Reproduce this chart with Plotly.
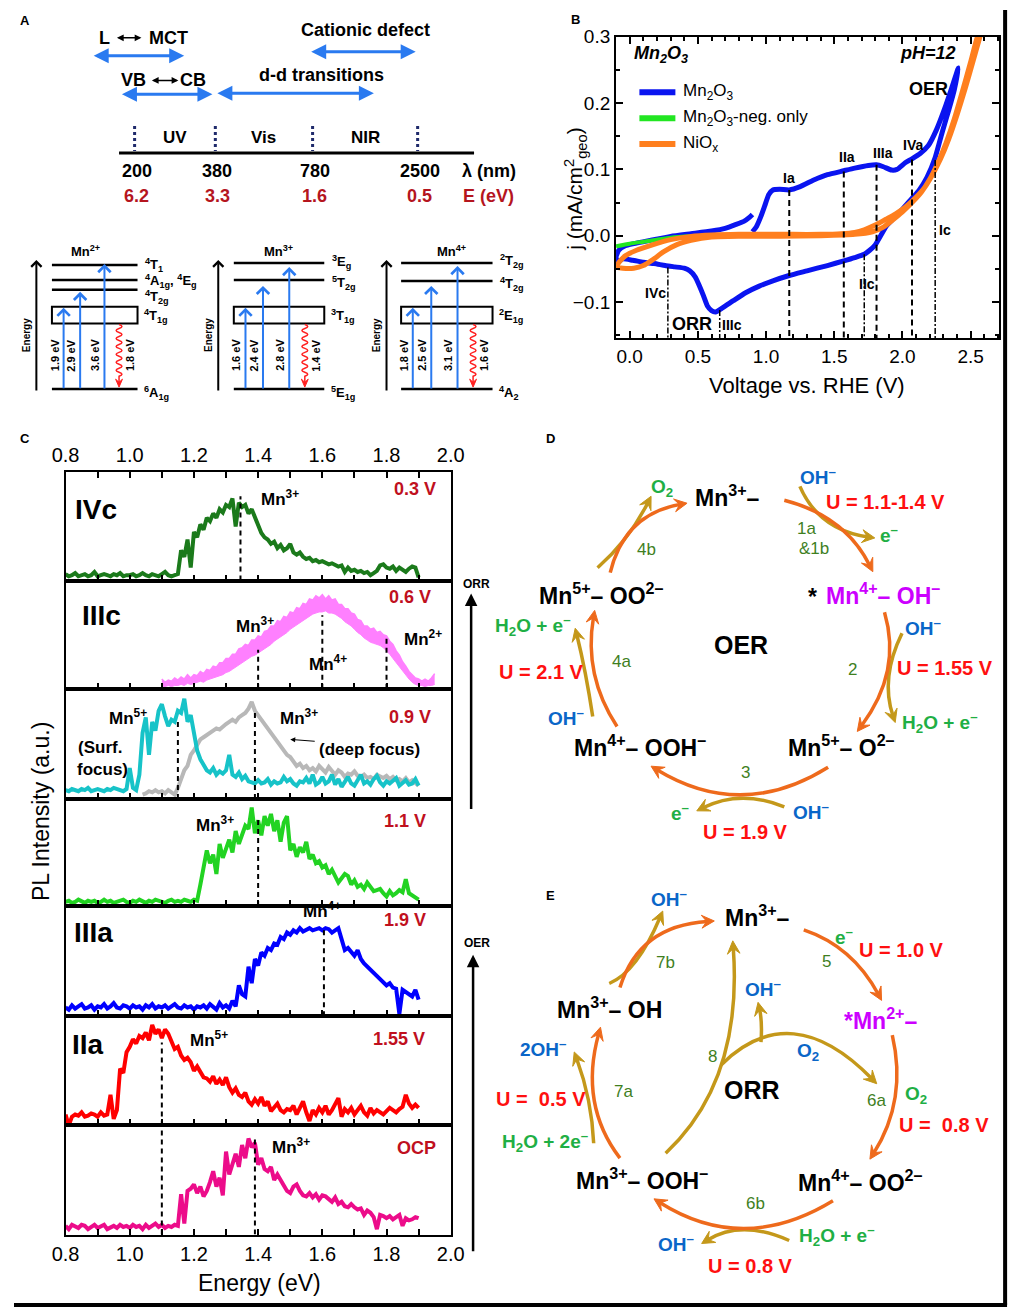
import math
import plotly.graph_objects as go

W, H = 1023, 1309
FONT = "Liberation Sans, Arial, sans-serif"

# ---------------------------------------------------------------------------------------------
# Data
# ---------------------------------------------------------------------------------------------

# Panel A - spectral regions and crystal-field transitions
wavelengths = [200, 380, 780, 2500]
photon_ev = [6.2, 3.3, 1.6, 0.5]
regions = ["UV", "Vis", "NIR"]
ions = ["Mn<sup>2+</sup>", "Mn<sup>3+</sup>", "Mn<sup>4+</sup>"]
upper_terms = [["<sup>4</sup>T<sub>1</sub>", "<sup>4</sup>A<sub>1g</sub>, <sup>4</sup>E<sub>g</sub>", "<sup>4</sup>T<sub>2g</sub>"],
               ["<sup>3</sup>E<sub>g</sub>", "<sup>5</sup>T<sub>2g</sub>"],
               ["<sup>2</sup>T<sub>2g</sub>", "<sup>4</sup>T<sub>2g</sub>"]]
box_terms = ["<sup>4</sup>T<sub>1g</sub>", "<sup>3</sup>T<sub>1g</sub>", "<sup>2</sup>E<sub>1g</sub>"]
ground_terms = ["<sup>6</sup>A<sub>1g</sub>", "<sup>5</sup>E<sub>1g</sub>", "<sup>4</sup>A<sub>2</sub>"]
absorption_ev = [[1.9, 2.9, 3.6], [1.6, 2.4, 2.8], [1.8, 2.5, 3.1]]
emission_ev = [1.8, 1.4, 1.6]

# Panel B - cyclic voltammograms (V vs RHE, mA/cm2)
mn2o3_v = [0.90, 0.93, 0.96, 0.99, 1.02, 1.05, 1.10, 1.17, 1.25, 1.35, 1.45, 1.57, 1.65, 1.75, 1.81, 1.86, 1.92, 1.96, 2.02, 2.07,
           2.13, 2.19, 2.25, 2.31, 2.36, 2.41,
           2.38, 2.34, 2.29, 2.24, 2.18, 2.12, 2.06, 2.00, 1.94, 1.88, 1.84, 1.80, 1.76, 1.72, 1.65, 1.57, 1.45, 1.30, 1.17, 1.05,
           0.95, 0.85, 0.76, 0.68, 0.63, 0.60, 0.57, 0.54, 0.51, 0.48, 0.44, 0.40, 0.33, 0.26, 0.18, 0.10, 0.02, -0.05, -0.09, -0.10,
           -0.08, -0.04, 0.03, 0.15, 0.30, 0.45, 0.60, 0.70, 0.78, 0.84, 0.88, 0.90]
mn2o3_j = [0.006, 0.014, 0.028, 0.045, 0.062, 0.069, 0.070, 0.069, 0.074, 0.084, 0.092, 0.098, 0.102, 0.106, 0.107, 0.104, 0.099, 0.100, 0.110, 0.116,
           0.124, 0.136, 0.160, 0.192, 0.222, 0.253,
           0.220, 0.190, 0.155, 0.118, 0.088, 0.068, 0.054, 0.040, 0.027, 0.014, 0.000, -0.014, -0.022, -0.028, -0.033, -0.038, -0.045, -0.053, -0.060, -0.068,
           -0.076, -0.086, -0.098, -0.109, -0.115, -0.113, -0.106, -0.090, -0.075, -0.062, -0.053, -0.049, -0.047, -0.045, -0.042, -0.040, -0.037, -0.035, -0.040, -0.032,
           -0.022, -0.016, -0.012, -0.007, -0.001, 0.003, 0.007, 0.011, 0.017, 0.022, 0.028, 0.032]
neg_v = [-0.10, 0.00, 0.10, 0.20, 0.30, 0.45, 0.60, 0.75, 0.90]
neg_j = [-0.016, -0.012, -0.009, -0.006, -0.003, -0.001, 0.000, 0.001, 0.002]
niox_v = [-0.10, -0.07, -0.03, 0.05, 0.15, 0.30, 0.45, 0.60, 0.80, 1.00, 1.20, 1.40, 1.55, 1.65, 1.72, 1.80, 1.88, 1.95, 2.02, 2.09,
          2.16, 2.22, 2.28, 2.34, 2.40, 2.46, 2.52, 2.58,
          2.55, 2.50, 2.44, 2.38, 2.32, 2.26, 2.20, 2.14, 2.07, 2.00, 1.93, 1.86, 1.78, 1.65, 1.40, 1.10, 0.80, 0.60, 0.45, 0.35,
          0.25, 0.17, 0.10, 0.03, -0.05, -0.10]
niox_j = [-0.047, -0.038, -0.030, -0.022, -0.015, -0.006, -0.001, 0.001, 0.002, 0.002, 0.002, 0.002, 0.003, 0.005, 0.009, 0.016, 0.025, 0.033, 0.043, 0.056,
          0.072, 0.092, 0.116, 0.146, 0.182, 0.222, 0.265, 0.310,
          0.300, 0.262, 0.218, 0.176, 0.140, 0.110, 0.085, 0.066, 0.050, 0.036, 0.024, 0.013, 0.006, 0.002, 0.000, -0.001, -0.001, -0.002, -0.007, -0.013,
          -0.024, -0.036, -0.045, -0.049, -0.049, -0.047]
cv_names = ["Mn<sub>2</sub>O<sub>3</sub>", "Mn<sub>2</sub>O<sub>3</sub>-neg. only", "NiO<sub>x</sub>"]
anodic_peaks = ["Ia", "IIa", "IIIa", "IVa"]
anodic_v = [1.17, 1.57, 1.81, 2.07]
anodic_j = [0.069, 0.097, 0.107, 0.115]
cathodic_peaks = ["IVc", "IIIc", "IIc", "Ic"]
cathodic_v = [0.28, 0.66, 1.72, 2.24]
cathodic_j = [-0.048, -0.112, -0.028, 0.114]

# Panel C - PL spectra, 0.01 eV steps (intensity in % of panel height)
pl_start = 0.80
pl_ivc = [6, 4, 5, 7, 4, 5, 6, 4, 5, 8,
          4, 5, 6, 5, 4, 6, 5, 7, 4, 5,
          5, 6, 4, 5, 7, 5, 4, 6, 5, 4,
          6, 8, 5, 4, 5, 6, 28, 22, 38, 12,
          45, 40, 52, 47, 58, 55, 62, 58, 66, 63,
          70, 68, 76, 50, 72, 68, 70, 62, 66, 58,
          50, 44, 40, 38, 34, 36, 30, 33, 28, 30,
          34, 26, 24, 26, 22, 20, 21, 18, 19, 17,
          18, 16, 15, 16, 14, 13, 14, 8, 12, 9,
          10, 8, 9, 7, 8, 5, 7, 9, 14, 15,
          12, 11, 13, 9, 12, 10, 8, 11, 13, 12,
          3]
pl_09_cyan = [8, 7, 9, 8, 7, 9, 8, 10, 7, 8,
              9, 8, 7, 9, 8, 10, 9, 8, 7, 9,
              28, 10, 8, 22, 60, 74, 40, 70, 62, 80,
              86, 75, 66, 72, 70, 80, 78, 91, 70, 76,
              62, 44, 36, 30, 26, 24, 28, 22, 25, 23,
              26, 40, 22, 20, 24, 18, 21, 16, 15, 14,
              17, 14, 15, 18, 13, 16, 14, 15, 20, 16,
              18, 14, 12, 16, 15, 19, 14, 22, 13, 15,
              20, 14, 16, 22, 13, 18, 11, 16, 20, 14,
              12, 17, 22, 14, 16, 13, 18, 21, 15, 12,
              16, 14, 17, 19, 12, 15, 17, 13, 14, 18,
              12]
gray_start = 1.04
pl_09_gray = [4, 5, 7, 6, 8, 6, 7, 5, 8, 6,
              4, 10, 18, 26, 30, 40, 44, 50, 54, 56,
              58, 60, 62, 64, 63, 66, 68, 70, 72, 70,
              74, 76, 78, 82, 88, 80, 76, 72, 68, 64,
              60, 56, 52, 48, 44, 40, 38, 34, 30, 32,
              28, 30, 26, 28, 25, 30, 27, 24, 29, 26,
              22, 26, 24, 20, 23, 22, 25, 21, 20, 22,
              19, 20, 18, 22, 20, 19, 21, 18, 20, 17,
              18, 16, 19, 15, 17, 14, 12]
pl_11 = [4, 5, 3, 4, 6, 4, 3, 5, 4, 5,
         3, 4, 6, 4, 5, 3, 4, 5, 6, 4,
         3, 5, 4, 6, 4, 3, 5, 4, 6, 5,
         4, 3, 5, 6, 4, 5, 4, 6, 5, 4,
         6, 5, 20, 35, 52, 40, 48, 30, 58, 45,
         55, 62, 50, 70, 58, 66, 75, 72, 92, 68,
         80, 66, 84, 75, 86, 70, 80, 60, 78, 84,
         52, 58, 46, 55, 50, 60, 44, 48, 40, 42,
         36, 38, 30, 34, 28, 22, 26, 30, 28, 20,
         24, 18, 20, 16, 22, 18, 14, 15, 16, 12,
         9, 14, 10, 12, 15, 13, 25, 12, 10, 8,
         6]
pl_iiia = [8, 6, 10, 7, 9, 11, 7, 8, 10, 6,
           9, 8, 11, 7, 9, 12, 8, 7, 10, 9,
           7, 10, 8, 9, 6, 10, 8, 11, 7, 9,
           8, 10, 7, 9, 11, 8, 7, 10, 8, 9,
           6, 9, 8, 10, 7, 11, 9, 6, 12, 8,
           10, 7, 14, 9, 28, 20, 18, 45, 30, 52,
           46, 58, 55, 62, 60, 66, 65, 72, 70, 76,
           74, 78, 76, 80, 77, 79, 80, 78, 79, 80,
           78, 80, 79, 76, 78, 80, 70, 60, 62, 58,
           55, 60, 52, 48, 45, 42, 40, 36, 34, 30,
           28, 30, 26, 25, 2, 24, 22, 20, 18, 24,
           15]
pl_iia = [10, 0, 8, 10, 9, 12, 8, 9, 11, 10,
          8, 12, 9, 10, 28, 6, 14, 52, 48, 67,
          72, 79, 75, 82, 80, 85, 78, 92, 84, 88,
          80, 88, 84, 76, 70, 72, 64, 60, 62, 58,
          50, 54, 48, 44, 43, 40, 45, 38, 42, 37,
          44, 35, 30, 34, 28, 26, 30, 22, 19, 24,
          20, 26, 18, 22, 13, 16, 20, 14, 12, 15,
          14, 18, 10, 16, 22, 12, 4, 14, 10, 16,
          12, 18, 10, 14, 20, 25, 8, 15, 12, 16,
          10, 14, 18, 12, 9, 16, 11, 14, 12, 10,
          13, 16, 14, 12, 15, 17, 28, 20, 16, 19,
          16]
pl_ocp = [8, 5, 9, 7, 6, 9, 8, 5, 7, 9,
          6, 8, 9, 5, 7, 8, 6, 9, 7, 8,
          6, 9, 7, 8, 5, 9, 6, 8, 10, 7,
          9, 6, 8, 7, 9, 8, 37, 10, 40, 42,
          46, 38, 44, 35, 40, 48, 58, 44, 52, 36,
          76, 55, 66, 74, 62, 82, 70, 88, 80, 84,
          64, 70, 60, 58, 62, 50, 55, 49, 45, 40,
          38, 44, 46, 40, 36, 35, 38, 34, 37, 32,
          36, 35, 32, 30, 34, 28, 30, 26, 25, 28,
          25, 23, 24, 18, 22, 20, 16, 5, 18, 17,
          15, 17, 14, 16, 18, 8, 15, 13, 14, 16,
          15]
iiic_start = 1.10
pl_iiic_hi = [9, 6, 8, 7, 10, 8, 11, 9, 13, 10,
              13, 12, 16, 14, 18, 17, 21, 20, 24, 24,
              28, 28, 32, 32, 37, 38, 41, 40, 45, 45,
              49, 48, 53, 54, 58, 58, 63, 62, 67, 66,
              71, 70, 75, 74, 79, 78, 83, 82, 86, 84,
              87, 83, 86, 82, 83, 78, 78, 74, 74, 70,
              69, 64, 63, 58, 58, 55, 56, 52, 53, 50,
              49, 44, 41, 35, 31, 25, 21, 16, 13, 10,
              9, 7, 9, 7, 10, 14]
pl_iiic_lo = [2, 2, 3, 2, 3, 3, 4, 3, 5, 4,
              5, 6, 7, 6, 8, 9, 10, 11, 12, 13,
              15, 16, 18, 20, 22, 24, 26, 28, 30, 31,
              33, 35, 37, 39, 41, 44, 46, 48, 50, 52,
              55, 57, 59, 61, 63, 65, 67, 69, 70, 71,
              71, 72, 70, 70, 69, 67, 65, 62, 60, 58,
              55, 52, 50, 47, 45, 43, 42, 41, 40, 38,
              35, 32, 28, 24, 20, 16, 12, 9, 6, 4,
              3, 3, 2, 3, 3, 4]
potentials = ["0.3 V", "0.6 V", "0.9 V", "1.1 V", "1.9 V", "1.55 V", "OCP"]
peak_e = [[1.345], [1.40, 1.60, 1.80], [1.15, 1.39], [1.40], [1.605], [1.10], [1.10, 1.39]]
peak_top = [[78], [36, 68, 50], [71, 80], [83], [78], [76], [100, 87]]

# ---------------------------------------------------------------------------------------------
# Helpers (pixel position -> paper)
# ---------------------------------------------------------------------------------------------
def X(px):
    return px / W


def Y(py):
    return 1 - py / H


annotations = []
shapes = []


def txt(x, y, s, size=14, color="black", bold=True, angle=0, xanchor="center", yanchor="middle"):
    if bold:
        s = "<b>" + s + "</b>"
    annotations.append(dict(x=X(x), y=Y(y), xref="paper", yref="paper", text=s, showarrow=False,
                            font=dict(size=size, color=color, family=FONT), textangle=angle,
                            xanchor=xanchor, yanchor=yanchor))


def seg(x0, y0, x1, y1, color="black", width=2, dash="solid"):
    shapes.append(dict(type="line", xref="paper", yref="paper", x0=X(x0), y0=Y(y0), x1=X(x1), y1=Y(y1),
                       line=dict(color=color, width=width, dash=dash)))


def arrow(x0, y0, x1, y1, color="black", width=2, head=2, size=1.0, both=False):
    annotations.append(dict(x=X(x1), y=Y(y1), xref="paper", yref="paper", ax=x0 - x1, ay=y0 - y1,
                            text="", showarrow=True, arrowhead=head, arrowsize=size, arrowwidth=width,
                            arrowcolor=color, arrowside="end+start" if both else "end",
                            startarrowhead=head, startarrowsize=size))


def head_tri(tip, ux, uy, color, hl=13, hw=6.5):
    nx, ny = -uy, ux
    b1 = (tip[0] - ux * hl + nx * hw, tip[1] - uy * hl + ny * hw)
    b2 = (tip[0] - ux * hl - nx * hw, tip[1] - uy * hl - ny * hw)
    nt = (tip[0] - ux * hl * 0.6, tip[1] - uy * hl * 0.6)
    p = "M{},{} L{},{} L{},{} L{},{} Z".format(X(tip[0]), Y(tip[1]), X(b1[0]), Y(b1[1]),
                                              X(nt[0]), Y(nt[1]), X(b2[0]), Y(b2[1]))
    shapes.append(dict(type="path", path=p, xref="paper", yref="paper", fillcolor=color,
                       line=dict(color=color, width=1)))


def curved(p0, pm, p1, color, width=3.5):
    cx = 2 * pm[0] - 0.5 * (p0[0] + p1[0])
    cy = 2 * pm[1] - 0.5 * (p0[1] + p1[1])
    dx, dy = p1[0] - cx, p1[1] - cy
    L = math.hypot(dx, dy)
    ux, uy = dx / L, dy / L
    end = (p1[0] - ux * 7, p1[1] - uy * 7)
    p = "M{},{} Q{},{} {},{}".format(X(p0[0]), Y(p0[1]), X(cx), Y(cy), X(end[0]), Y(end[1]))
    shapes.append(dict(type="path", path=p, xref="paper", yref="paper", line=dict(color=color, width=width)))
    head_tri(p1, ux, uy, color)


def wavy(x, y0, y1, color="#FF2020"):
    p = "M{},{}".format(X(x), Y(y0))
    y, s = y0, 1
    while y + 4 <= y1 - 8:
        p += " Q{},{} {},{}".format(X(x + s * 6), Y(y + 2), X(x), Y(y + 4))
        y += 4
        s = -s
    p += " L{},{}".format(X(x), Y(y1 - 5))
    shapes.append(dict(type="path", path=p, xref="paper", yref="paper", line=dict(color=color, width=1.5)))
    head_tri((x, y1), 0, 1, color, hl=8, hw=3.5)


# ---------------------------------------------------------------------------------------------
# Panel A
# ---------------------------------------------------------------------------------------------
BLUE_A = "#2A7AF0"
DRED = "#B5151E"
txt(11, 11, "A", 13)
txt(93, 28, "L", 18)
txt(159, 28, "MCT", 18)
arrow(105, 28, 131, 28, "black", 1.5, 2, 0.9, both=True)
txt(361, 20, "Cationic defect", 18)
txt(123, 71, "VB", 18)
txt(184, 71, "CB", 18)
arrow(141, 71, 169, 71, "black", 1.5, 2, 0.9, both=True)
txt(316, 66, "d-d transitions", 18)
arrow(83, 46, 175, 46, BLUE_A, 3, 2, 1, both=True)
arrow(307, 42, 413, 42, BLUE_A, 3, 2, 1, both=True)
arrow(112, 85, 204, 85, BLUE_A, 3, 2, 1, both=True)
arrow(212, 84, 370, 84, BLUE_A, 3, 2, 1, both=True)

seg(108, 144, 473, 144, "black", 3)
tick_px = [124, 207, 307, 415]
for i, xp in enumerate(tick_px):
    seg(xp, 117, xp, 142, "#1F2A6B", 3, "dot")
    txt(xp + 2, 162, str(wavelengths[i]), 18)
    txt(xp + 2, 187, str(photon_ev[i]), 18, DRED)
for i, r in enumerate(regions):
    txt((tick_px[i] + tick_px[i + 1]) / 2, 128, r, 17)
txt(488, 162, "λ (nm)", 18)
txt(488, 187, "E (eV)", 18, DRED)

# energy-level diagrams
diag_x0 = [39, 226, 398]
diag_w = [88, 93, 94]
axis_x = [23, 210, 383]
ion_x = [73, 272, 450]
upper_y = [[257, 272, 282], [255, 272], [255, 273]]
upper_ly = [[257, 273, 289], [254, 275], [253, 276]]
abs_dx = [[12, 29, 54], [12, 30, 57], [12, 31, 58]]
abs_tip = [[300, 284, 256], [300, 278, 259], [300, 278, 258]]
em_dx = [69, 73, 74]
for d in range(3):
    x0, w = diag_x0[d], diag_w[d]
    arrow(axis_x[d], 384, axis_x[d], 252, "black", 2, 4, 1)
    txt(axis_x[d] - 10, 328, "Energy", 10, angle=-90)
    txt(ion_x[d], 243, ions[d], 13)
    for k, yl in enumerate(upper_y[d]):
        seg(x0, yl, x0 + w, yl, "black", 2.5)
        txt(x0 + w + 6, upper_ly[d][k], upper_terms[d][k], 13, xanchor="left")
    shapes.append(dict(type="rect", xref="paper", yref="paper", x0=X(x0), x1=X(x0 + w), y0=Y(316), y1=Y(299),
                       line=dict(color="black", width=2)))
    txt(x0 + w + 5, 308, box_terms[d], 13, xanchor="left")
    seg(x0, 382, x0 + w, 382, "black", 2.5)
    txt(x0 + w + 5, 386, ground_terms[d], 13, xanchor="left")
    for k in range(3):
        xa = x0 + abs_dx[d][k]
        arrow(xa, 382, xa, abs_tip[d][k], BLUE_A, 2, 4, 1.2)
        txt(xa - 9, 348, "{} eV".format(absorption_ev[d][k]), 11, angle=-90)
    xw = x0 + em_dx[d]
    wavy(xw, 317, 380)
    txt(xw + 12, 348, "{} eV".format(emission_ev[d]), 11, angle=-90)

# ---------------------------------------------------------------------------------------------
# Panel B
# ---------------------------------------------------------------------------------------------
fig = go.Figure()
cv_colors = ["#0A14F0", "#22E622", "#FF7F1E"]
cv_widths = [5, 4, 5]
for v, j, c, w in zip([mn2o3_v, neg_v, niox_v], [mn2o3_j, neg_j, niox_j], cv_colors, cv_widths):
    fig.add_trace(go.Scatter(x=v, y=j, mode="lines", xaxis="x", yaxis="y", showlegend=False,
                             line=dict(color=c, width=w, shape="spline", smoothing=0.5), hoverinfo="skip"))
for v, j in zip(anodic_v, anodic_j):
    fig.add_trace(go.Scatter(x=[v, v], y=[j, -0.155], mode="lines", xaxis="x", yaxis="y", showlegend=False,
                             line=dict(color="black", width=2, dash="6px,4px")))
for v, j in zip(cathodic_v, cathodic_j):
    fig.add_trace(go.Scatter(x=[v, v], y=[j, -0.155], mode="lines", xaxis="x", yaxis="y", showlegend=False,
                             line=dict(color="black", width=1.5, dash="6px,2px,2px,2px")))

b_lab_pos = [(1.17, 0.087), (1.59, 0.119), (1.86, 0.125), (2.08, 0.137)]
for name, (v, j) in zip(anodic_peaks, b_lab_pos):
    annotations.append(dict(x=v, y=j, xref="x", yref="y", text="<b>" + name + "</b>", showarrow=False,
                            font=dict(size=14, family=FONT, color="black")))
c_lab_pos = [(0.19, -0.087), (0.75, -0.134), (1.74, -0.073), (2.31, 0.009)]
for name, (v, j) in zip(cathodic_peaks, c_lab_pos):
    annotations.append(dict(x=v, y=j, xref="x", yref="y", text="<b>" + name + "</b>", showarrow=False,
                            font=dict(size=14, family=FONT, color="black")))
annotations.append(dict(x=0.46, y=-0.133, xref="x", yref="y", text="<b>ORR</b>", showarrow=False,
                        font=dict(size=18, family=FONT, color="black")))
annotations.append(dict(x=2.19, y=0.222, xref="x", yref="y", text="<b>OER</b>", showarrow=False,
                        font=dict(size=18, family=FONT, color="black")))
txt(665, 45, "<i>Mn<sub>2</sub>O<sub>3</sub></i>", 18)
txt(940, 43, "<i>pH=12</i>", 18)
txt(577, 10, "B", 13)
for i, name in enumerate(cv_names):
    yy = 83 + i * 26
    seg(643, yy, 680, yy, cv_colors[i], 6)
    txt(686, yy, name, 17, bold=False, xanchor="left")
txt(577, 180, "j (mA/cm<sup>2</sup><sub>geo</sub>)", 21, bold=False, angle=-90)
txt(815, 378, "Voltage vs. RHE (V)", 22, bold=False)

# ---------------------------------------------------------------------------------------------
# Panel C
# ---------------------------------------------------------------------------------------------
c_tops = [466, 575, 684, 795, 903, 1014, 1124, 1234]


def egrid(start, n):
    return [round(start + 0.01 * i, 2) for i in range(n)]


spectra = [[(pl_ivc, pl_start, "#1B7A1B")],
           [],
           [(pl_09_gray, gray_start, "#B8B8B8"), (pl_09_cyan, pl_start, "#17C3C8")],
           [(pl_11, pl_start, "#22D322")],
           [(pl_iiia, pl_start, "#0000FF")],
           [(pl_iia, pl_start, "#FF0000")],
           [(pl_ocp, pl_start, "#EC0C8A")]]

layout_axes = {}
for k in range(7):
    ax = "x{}".format(k + 2)
    ay = "y{}".format(k + 2)
    if k == 1:
        e = egrid(iiic_start, len(pl_iiic_lo))
        fig.add_trace(go.Scatter(x=e, y=pl_iiic_lo, mode="lines", xaxis=ax, yaxis=ay, showlegend=False,
                                 line=dict(color="#FF80FF", width=1)))
        fig.add_trace(go.Scatter(x=e, y=pl_iiic_hi, mode="lines", xaxis=ax, yaxis=ay, showlegend=False,
                                 fill="tonexty", fillcolor="#FF80FF", line=dict(color="#FF80FF", width=1.5)))
    for vals, st, col in spectra[k]:
        fig.add_trace(go.Scatter(x=egrid(st, len(vals)), y=vals, mode="lines", xaxis=ax, yaxis=ay,
                                 showlegend=False, line=dict(color=col, width=4)))
    for e0, top in zip(peak_e[k], peak_top[k]):
        fig.add_trace(go.Scatter(x=[e0, e0], y=[0, top], mode="lines", xaxis=ax, yaxis=ay, showlegend=False,
                                 line=dict(color="black", width=2, dash="5px,4px")))
    xa = dict(domain=[X(53), X(449)], range=[0.8, 2.0], anchor=ay, showline=True, linecolor="black",
              linewidth=2, ticks="inside", ticklen=6, tickwidth=2, tickcolor="black", dtick=0.2, tick0=0.8,
              tickformat=".1f", minor=dict(dtick=0.1, ticks="inside", ticklen=6, tickwidth=2, tickcolor="black"),
              showgrid=False, zeroline=False, tickfont=dict(size=20, family=FONT, color="black"),
              mirror=True, showticklabels=False)
    if k == 0:
        xa.update(side="top", mirror="allticks", showticklabels=True)
    if k == 6:
        xa.update(showticklabels=True)
    ya = dict(domain=[Y(c_tops[k + 1]), Y(c_tops[k])], range=[0, 100], anchor=ax, showline=True,
              linecolor="black", linewidth=2, mirror=True, ticks="", showticklabels=False,
              showgrid=False, zeroline=False)
    layout_axes["xaxis{}".format(k + 2)] = xa
    layout_axes["yaxis{}".format(k + 2)] = ya

DRED_C = "#C0101E"
txt(11, 432, "C", 13)
txt(84, 503, "IVc", 28)
txt(90, 610, "IIIc", 28)
txt(82, 930, "IIIa", 28)
txt(76, 1042, "IIa", 28)
pot_pos = [(412, 483), (407, 592), (407, 712), (402, 817), (402, 917), (396, 1037), (414, 1147)]
for p, (xp, yp) in zip(potentials, pot_pos):
    txt(xp, yp, p, 18, DRED_C)
for s, xp, yp in [("Mn<sup>3+</sup>", 273, 492), ("Mn<sup>3+</sup>", 248, 620), ("Mn<sup>4+</sup>", 323, 658),
                  ("Mn<sup>2+</sup>", 420, 633), ("Mn<sup>5+</sup>", 117, 712), ("Mn<sup>3+</sup>", 293, 712),
                  ("Mn<sup>3+</sup>", 207, 820), ("Mn<sup>4+</sup>", 317, 907), ("Mn<sup>5+</sup>", 200, 1037),
                  ("Mn<sup>3+</sup>", 285, 1145)]:
    txt(xp, yp, s, 17)
txt(88, 743, "(Surf.", 17)
txt(91, 765, "focus)", 17)
txt(366, 745, "(deep focus)", 17)
arrow(310, 737, 284, 735, "black", 1, 2, 1)
txt(28, 808, "PL Intensity (a.u.)", 23, bold=False, angle=-90)
txt(252, 1283, "Energy (eV)", 23, bold=False)
txt(476, 578, "ORR", 12)
arrow(470, 805, 470, 588, "black", 2.5, 2, 1)
txt(476, 940, "OER", 12)
arrow(472, 1250, 472, 952, "black", 2.5, 2, 1)

# ---------------------------------------------------------------------------------------------
# Panels D and E (reaction cycles)
# ---------------------------------------------------------------------------------------------
ORANGE = "#EE6A1C"
GOLD = "#C4981A"
GREEN = "#1FAF45"
BLUE = "#0A66C8"
RED = "#FF1010"
MAG = "#CC00FF"
STEP = "#3F7F1F"

txt(552, 432, "D", 13)
for s, xp, yp, col in [("Mn<sup>3+</sup>–", 734, 490, "black"), ("Mn<sup>4+</sup>– OH<sup>–</sup>", 893, 588, MAG),
                       ("Mn<sup>5+</sup>– O<sup>2–</sup>", 851, 742, "black"),
                       ("Mn<sup>4+</sup>– OOH<sup>–</sup>", 644, 742, "black"),
                       ("Mn<sup>5+</sup>– OO<sup>2–</sup>", 604, 588, "black"), ("*", 821, 592, "black")]:
    txt(xp, yp, s, 23, col)
txt(747, 640, "OER", 25)
for s, xp, yp in [("1a", 815, 522), ("&1b", 822, 543), ("2", 862, 665), ("3", 752, 768), ("4a", 625, 657), ("4b", 650, 544)]:
    txt(xp, yp, s, 17, STEP, bold=False)
for s, xp, yp in [("OH<sup>–</sup>", 827, 470), ("OH<sup>–</sup>", 935, 622), ("OH<sup>–</sup>", 819, 807), ("OH<sup>–</sup>", 568, 712)]:
    txt(xp, yp, s, 19, BLUE)
for s, xp, yp in [("O<sub>2</sub>", 666, 482), ("e<sup>–</sup>", 900, 528), ("H<sub>2</sub>O + e<sup>–</sup>", 952, 718),
                  ("e<sup>–</sup>", 685, 808), ("H<sub>2</sub>O + e<sup>–</sup>", 534, 620)]:
    txt(xp, yp, s, 19, GREEN)
for s, xp, yp in [("U = 1.1-1.4 V", 896, 496), ("U = 1.55 V", 957, 663), ("U = 1.9 V", 752, 828), ("U = 2.1 V", 542, 667)]:
    txt(xp, yp, s, 20, RED)
curved((808, 480), (837, 515), (885, 532), GOLD)
curved((913, 628), (900, 673), (906, 718), GOLD)
curved((792, 803), (747, 795), (702, 807), GOLD)
curved((595, 712), (587, 667), (577, 623), GOLD)
curved((600, 562), (630, 530), (655, 490), GOLD)
curved((792, 494), (846, 520), (883, 566), ORANGE)
curved((895, 607), (897, 667), (867, 727), ORANGE)
curved((837, 763), (747, 790), (655, 762), ORANGE)
curved((620, 722), (597, 667), (597, 605), ORANGE)
curved((613, 567), (640, 520), (692, 497), ORANGE)

txt(552, 892, "E", 13)
for s, xp, yp, col in [("Mn<sup>3+</sup>–", 764, 913, "black"), ("*Mn<sup>2+</sup>–", 891, 1017, MAG),
                       ("Mn<sup>4+</sup>– OO<sup>2–</sup>", 870, 1180, "black"),
                       ("Mn<sup>3+</sup>– OOH<sup>–</sup>", 646, 1178, "black"),
                       ("Mn<sup>3+</sup>– OH", 612, 1006, "black")]:
    txt(xp, yp, s, 23, col)
txt(759, 1088, "ORR", 25)
for s, xp, yp in [("7b", 670, 960), ("5", 835, 959), ("8", 718, 1055), ("7a", 627, 1090), ("6a", 887, 1099), ("6b", 762, 1203)]:
    txt(xp, yp, s, 17, STEP, bold=False)
for s, xp, yp in [("OH<sup>–</sup>", 673, 895), ("OH<sup>–</sup>", 770, 986), ("O<sub>2</sub>", 816, 1050),
                  ("2OH<sup>–</sup>", 544, 1046), ("OH<sup>–</sup>", 681, 1242)]:
    txt(xp, yp, s, 19, BLUE)
for s, xp, yp in [("e<sup>–</sup>", 853, 933), ("O<sub>2</sub>", 927, 1093), ("H<sub>2</sub>O + 2e<sup>–</sup>", 546, 1140),
                  ("H<sub>2</sub>O + e<sup>–</sup>", 846, 1235)]:
    txt(xp, yp, s, 19, GREEN)
for s, xp, yp in [("U = 1.0 V", 912, 947), ("U =\u00a0 0.8 V", 956, 1124), ("U =\u00a0 0.5 V", 542, 1097), ("U = 0.8 V", 757, 1266)]:
    txt(xp, yp, s, 20, RED)
curved((596, 1142), (590, 1097), (576, 1050), GOLD)
curved((612, 981), (640, 957), (667, 908), GOLD)
curved((670, 1152), (727, 1062), (739, 938), GOLD)
curved((727, 1063), (803, 1033), (887, 1082), GOLD)
curved((768, 1040), (768, 1020), (765, 1000), GOLD)
curved((797, 1240), (750, 1230), (707, 1243), GOLD)
curved((812, 927), (857, 953), (892, 998), ORANGE)
curved((903, 1033), (905, 1097), (880, 1158), ORANGE)
curved((842, 1200), (750, 1227), (658, 1198), ORANGE)
curved((623, 1157), (597, 1097), (603, 1025), ORANGE)
curved((623, 985), (657, 937), (720, 918), ORANGE)

# figure frame (right and bottom edges)
seg(1019, 0, 1019, 1305, "black", 4)
seg(0, 1305, 1021, 1305, "black", 4)

# ---------------------------------------------------------------------------------------------
# Layout
# ---------------------------------------------------------------------------------------------
fig.update_layout(
    width=W, height=H,
    margin=dict(l=0, r=0, t=0, b=0),
    paper_bgcolor="white",
    plot_bgcolor="rgba(0,0,0,0)",
    showlegend=False,
    font=dict(family=FONT, color="black"),
    xaxis=dict(domain=[X(619), X(1013)], range=[-0.1, 2.71], anchor="y", showline=True, linecolor="black",
               linewidth=2, mirror="allticks", ticks="inside", ticklen=7, tickwidth=2, tickcolor="black",
               dtick=0.5, tick0=0, tickformat=".1f",
               minor=dict(dtick=0.1, ticks="inside", ticklen=4, tickwidth=1.5, tickcolor="black"),
               showgrid=False, zeroline=False, tickfont=dict(size=19, family=FONT, color="black")),
    yaxis=dict(domain=[Y(331), Y(27)], range=[-0.155, 0.3], anchor="x", showline=True, linecolor="black",
               linewidth=2, mirror="allticks", ticks="inside", ticklen=7, tickwidth=2, tickcolor="black",
               dtick=0.1, tick0=0, tickformat=".1f",
               minor=dict(dtick=0.05, ticks="inside", ticklen=4, tickwidth=1.5, tickcolor="black"),
               showgrid=False, zeroline=False, tickfont=dict(size=19, family=FONT, color="black")),
    shapes=shapes,
    annotations=annotations,
    **layout_axes
)

fig.write_html("out.html", config={"displayModeBar": False},
               post_script="document.body.style.margin='0px';")
